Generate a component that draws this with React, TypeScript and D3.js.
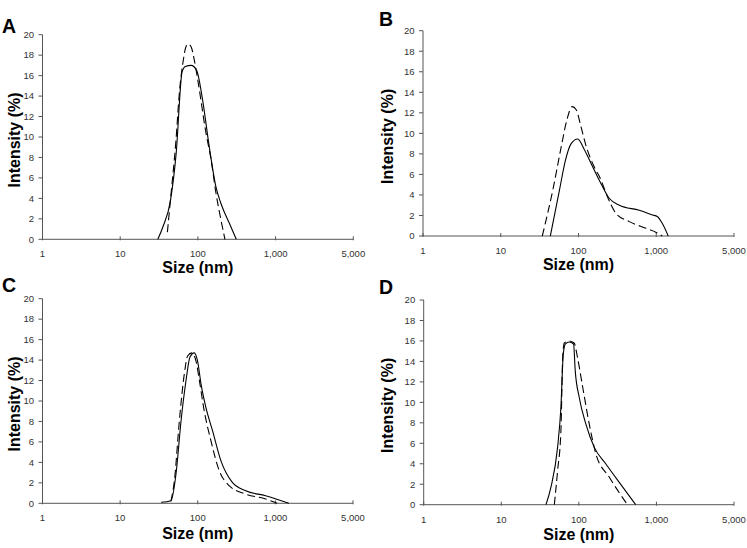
import React from "react";
import * as d3 from "d3";

type Pt = [number, number];

const xTickValues = [1, 10, 100, 1000, 10000];
const xTickLabels = ["1", "10", "100", "1,000", "5,000"];
const yTickValues = [0, 2, 4, 6, 8, 10, 12, 14, 16, 18, 20];
const panelLetters = ["A", "B", "C", "D"];

const solidA: Pt[] = [[30.5,0],[35.4,1.2],[44.4,3.8],[52.5,8.4],[62.7,16.4],[69,16.9],[81.8,17.0],[96.5,16.5],[115,13.6],[140,9.05],[171,5.1],[198,3.5],[254,1.56],[312,0]];
const dashedA: Pt[] = [[40.5,0.7],[44.4,3.9],[52,9.5],[58,14.5],[64,17.2],[70,18.8],[75,19.1],[82,18.8],[90,17.5],[100,15.5],[127,10.4],[148,7.75],[171,4.5],[198,1.9],[223,0]];

const solidB: Pt[] = [[43.4,0],[57,4.5],[68,7.4],[80.5,9.0],[97.8,9.45],[119,8.4],[152,6.75],[195,5.1],[250,3.65],[335,3.0],[604,2.5],[897,2.05],[1030,1.9],[1194,1.24],[1425,0]];
const dashedB: Pt[] = [[34.2,0],[46.8,4.5],[60,8.7],[70.8,11.3],[83,12.6],[93.4,12.3],[108,10.6],[126,8.7],[159,6.75],[195,5.45],[226,4.15],[304,2.2],[450,1.4],[738,0.75],[1000,0.35],[1194,0]];

const solidC: Pt[] = [[33.7,0.1],[45.3,0.25],[52.5,2.9],[61,8.1],[70.6,12.0],[79.4,14.3],[90,14.7],[99.5,13.9],[110,11.7],[127,9.4],[155,7.1],[198,4.2],[279,2.05],[415,1.23],[749,0.74],[1490,0]];
const dashedC: Pt[] = [[45,0.2],[50,2.2],[58,8.1],[67,12.6],[74,14.4],[84,14.7],[95,13.9],[105,12.0],[121,9.05],[148,6.1],[189,3.2],[254,1.72],[415,0.9],[749,0.42],[1055,0]];

const solidD: Pt[] = [[37.7,0],[43.6,1.7],[53.2,5.6],[58.7,9.5],[63,14.7],[66.8,15.7],[75.2,15.9],[85.5,15.7],[89.8,13.1],[101,10.5],[123,7.9],[158,5.6],[222,4.0],[330,2.2],[540,0]];
const dashedD: Pt[] = [[48.3,0],[53.2,3.3],[58.7,7.2],[62,14.5],[65,15.8],[75,16.0],[87,15.8],[96,14.4],[112,11.5],[136,7.9],[166,4.95],[246,2.7],[423,0]];

const solidSeries = [solidA, solidB, solidC, solidD];
const dashedSeries = [dashedA, dashedB, dashedC, dashedD];

const layouts = [
  { x0: 42.5, x1: 353.3, yTop: 34.7, yBottom: 239.3, lx: 2, ly: 33, xlab: 34, ylabX: 19.5 },
  { x0: 423, x1: 734, yTop: 30.7, yBottom: 236, lx: 379, ly: 26, xlab: 33.5, ylabX: 392.5 },
  { x0: 42.5, x1: 353, yTop: 298.7, yBottom: 503.3, lx: 2, ly: 292, xlab: 36, ylabX: 19.5 },
  { x0: 423.7, x1: 734, yTop: 300, yBottom: 504.7, lx: 379, ly: 294, xlab: 35, ylabX: 392.5 },
];

const FONT = "'Liberation Sans', Arial, Helvetica, sans-serif";

function Panel({ idx }: { idx: number }) {
  const L = layouts[idx];
  const x = d3.scaleLog().domain([1, 10000]).range([L.x0, L.x1]);
  const y = d3.scaleLinear().domain([0, 20]).range([L.yBottom, L.yTop]);
  const line = d3
    .line<Pt>()
    .x((d) => x(d[0]))
    .y((d) => y(d[1]))
    .curve(d3.curveMonotoneX);
  const axisColor = "#555";
  const tickColor = "#333";
  return (
    <g>
      <text x={L.lx} y={L.ly} fontFamily={FONT} fontWeight="bold" fontSize={19.5} fill="#000">
        {panelLetters[idx]}
      </text>
      <line x1={L.x0} x2={L.x0} y1={y(20)} y2={y(0)} stroke={axisColor} strokeWidth={1} />
      {yTickValues.map((t) => (
        <g key={"y" + t}>
          <line x1={L.x0 - 4} x2={L.x0} y1={y(t)} y2={y(t)} stroke={axisColor} strokeWidth={1} />
          <text x={L.x0 - 8.5} y={y(t)} dy="0.35em" textAnchor="end" fontFamily={FONT} fontSize={9.5} fill={tickColor}>
            {t}
          </text>
        </g>
      ))}
      <line x1={x(1)} x2={x(10000)} y1={L.yBottom} y2={L.yBottom} stroke={axisColor} strokeWidth={1} />
      {xTickValues.map((t, i) => (
        <g key={"x" + t}>
          <line x1={x(t)} x2={x(t)} y1={L.yBottom - 3} y2={L.yBottom + 1} stroke={axisColor} strokeWidth={1} />
          <text x={x(t)} y={L.yBottom + 18} textAnchor="middle" fontFamily={FONT} fontSize={9.5} fill={tickColor}>
            {xTickLabels[i]}
          </text>
        </g>
      ))}
      <text
        x={(L.x0 + L.x1) / 2}
        y={L.yBottom + L.xlab}
        textAnchor="middle"
        fontFamily={FONT}
        fontWeight="bold"
        fontSize={16}
        fill="#000"
      >
        Size (nm)
      </text>
      <text
        transform={`translate(${L.ylabX},${(L.yTop + L.yBottom) / 2 + 3}) rotate(-90)`}
        textAnchor="middle"
        fontFamily={FONT}
        fontWeight="bold"
        fontSize={16}
        fill="#000"
      >
        Intensity (%)
      </text>
      <path d={line(dashedSeries[idx]) || ""} fill="none" stroke="#000" strokeWidth={1.1} strokeDasharray="8,4" />
      <path d={line(solidSeries[idx]) || ""} fill="none" stroke="#000" strokeWidth={1.1} />
    </g>
  );
}

export default function App() {
  return (
    <svg
      width={747}
      height={548}
      viewBox="0 0 747 548"
      style={{ position: "absolute", left: 0, top: 0, background: "#fff" }}
    >
      <rect x={0} y={0} width={747} height={548} fill="#fff" />
      {[0, 1, 2, 3].map((i) => (
        <Panel key={i} idx={i} />
      ))}
    </svg>
  );
}
